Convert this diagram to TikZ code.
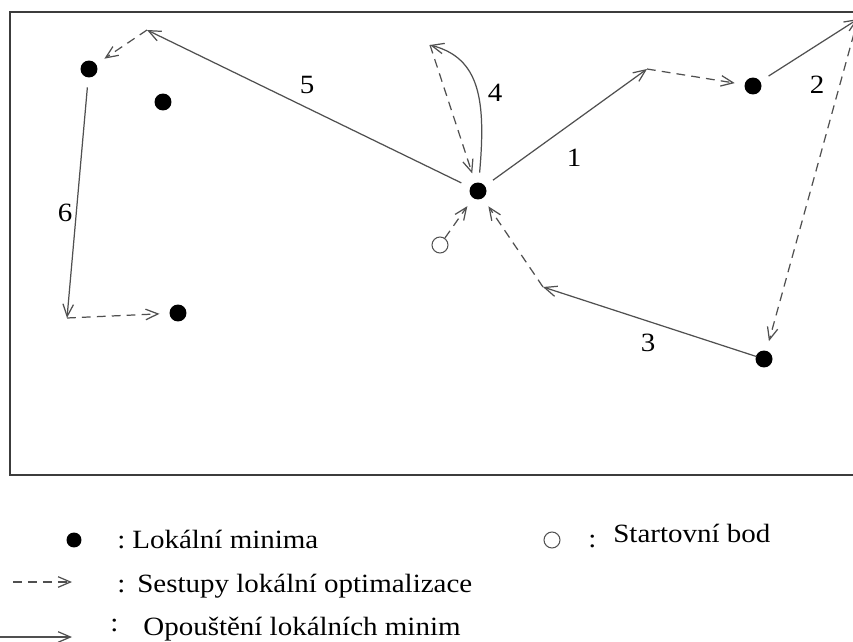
\documentclass[tikz,border=0pt]{standalone}
\usepackage{fontspec}
\setmainfont{Liberation Serif}[FakeStretch=1.1]
\usetikzlibrary{arrows.meta}
\definecolor{lineG}{HTML}{505050}
\definecolor{frameG}{HTML}{3C3C3C}
\tikzset{
  minpt/.style={circle, fill=black, inner sep=0pt, minimum size=0.34cm, outer sep=0.2cm},
  startpt/.style={circle, draw=lineG, line width=0.6pt, inner sep=0pt, minimum size=0.32cm},
  leave/.style={draw=lineG, line width=0.7pt, -{Straight Barb[length=7pt,width=6pt]}},
  descent/.style={leave, dash pattern=on 5pt off 3.5pt},
  lbl/.style={font=\fontsize{15}{18}\selectfont, inner sep=0pt},
}

\begin{document}
\begin{tikzpicture}[x=0.02cm, y=-0.02cm]
    \useasboundingbox (0,0) rectangle (853,642);
    \draw[frameG, line width=1.7pt] (858,12) -| (10,475) -- (858,475);

    \node[minpt] (A) at (89,69) {};
    \node[minpt] (B) at (163,102) {};
    \node[minpt] (C) at (178,313) {};
    \node[minpt] (M) at (478,191) {};
    \node[minpt] (R) at (753,86) {};
    \node[minpt] (S) at (764,359) {};
    \node[startpt] (O) at (440,245) {};

    \coordinate (k1) at (647,69);
    \coordinate (k2) at (858,19);
    \coordinate (k3) at (543,287);
    \coordinate (k4) at (430,45);
    \coordinate (k5) at (147,30);
    \coordinate (k6) at (67,318);

    \draw[descent] (O) -- (M);
    \draw[leave] (M) -- (k1);
    \draw[descent] (k1) -- (R);
    \draw[leave] (R) -- (k2);
    \draw[descent] (k2) -- (S);
    \draw[leave, shorten <=4.5pt] (S.center) -- (k3);
    \draw[descent] (k3) -- (M);
    \draw[leave] (M) .. controls (486,100) and (480,58) .. (k4);
    \draw[descent] (k4) -- (M);
    \draw[leave] (M) -- (k5);
    \draw[descent] (k5) -- (A);
    \draw[leave] (A) -- (k6);
    \draw[descent] (k6) -- (C);

    \node[lbl] (n1) at (574,158) {1};
    \node[lbl] (n2) at (817,85) {2};
    \node[lbl] (n3) at (648,343) {3};
    \node[lbl] (n4) at (495,93) {4};
    \node[lbl] (n5) at (307,85) {5};
    \node[lbl] (n6) at (65,213) {6};

    \node[minpt, minimum size=0.3cm, outer sep=0pt] (legmin) at (74,540) {};
    \node[lbl, anchor=base west] (legmincol) at (117,548) {:};
    \node[lbl, anchor=base west] (legmintxt) at (132,548) {Lokální minima};

    \coordinate (legd1) at (13,582);
    \coordinate (legd2) at (72,582);
    \draw[descent] (legd1) -- (legd2);
    \node[lbl, anchor=base west] (legdcol) at (117,592) {:};
    \node[lbl, anchor=base west] (legdtxt) at (137,592) {Sestupy lokální optimalizace};

    \coordinate (legs1) at (0,637);
    \coordinate (legs2) at (72,637);
    \draw[leave] (legs1) -- (legs2);
    \node[lbl, anchor=base west] (legscol) at (110,631) {:};
    \node[lbl, anchor=base west] (legstxt) at (143,635) {Opouštění lokálních minim};

    \node[startpt] (legstart) at (552,540) {};
    \node[lbl, anchor=base west] (legstartcol) at (588,547) {:};
    \node[lbl, anchor=base west] (legstarttxt) at (613,542) {Startovní bod};
\end{tikzpicture}
\end{document}
